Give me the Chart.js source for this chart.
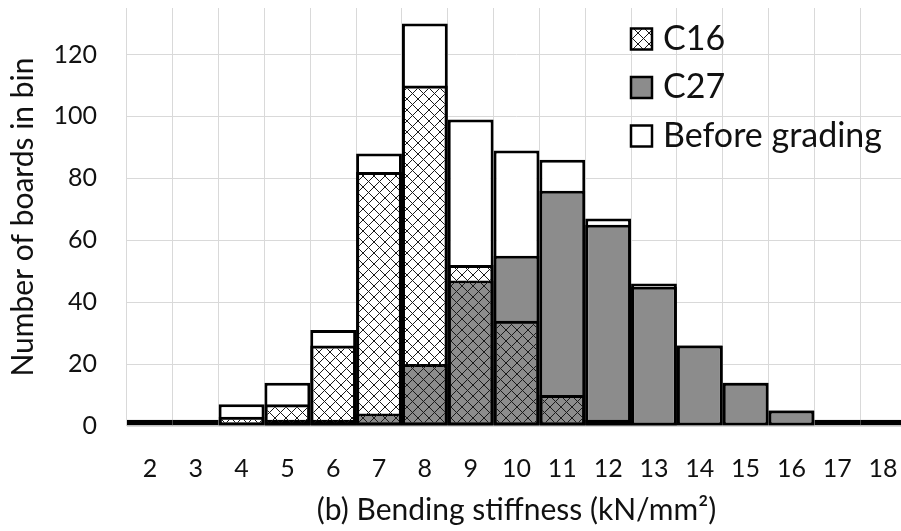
<!DOCTYPE html>
<html>
<head>
<meta charset="utf-8">
<script src="https://cdn.jsdelivr.net/npm/chart.js@4.4.1/dist/chart.umd.min.js"></script>
<style>
  html, body { margin: 0; padding: 0; background: #fff; overflow: hidden; }
  #wrap { width: 901px; height: 531px; overflow: hidden; }
</style>
</head>
<body>
<div id="wrap"><canvas id="chart_hist" width="910" height="531"></canvas></div>
<script>
const bins = ["2", "3", "4", "5", "6", "7", "8", "9", "10", "11", "12", "13", "14", "15", "16", "17", "18"];
const c16 = [0, 0, 3, 7, 26, 82, 110, 52, 34, 10, 2, 1, 0, 0, 0, 0, 0];
const c27 = [0, 0, 0, 2, 2, 4, 20, 47, 55, 76, 65, 45, 26, 14, 5, 0, 0];
const beforeGrading = [2, 2, 7, 14, 31, 88, 130, 99, 89, 86, 67, 46, 26, 14, 5, 2, 2];

const FONT = "Lato";
const GRID = "#d9d9d9";
const GREY = "#8c8c8c";

const canvas = document.getElementById("chart_hist");
const ctx = canvas.getContext("2d");

// diamond hatch, transparent between the lines
function makeHatch() {
  const p = 11;
  const tile = document.createElement("canvas");
  tile.width = p;
  tile.height = p;
  const g = tile.getContext("2d");
  g.strokeStyle = "#1a1a1a";
  g.lineWidth = 1;
  g.beginPath();
  g.moveTo(-1, -1);
  g.lineTo(p + 1, p + 1);
  g.moveTo(p + 1, -1);
  g.lineTo(-1, p + 1);
  g.stroke();
  return ctx.createPattern(tile, "repeat");
}
const hatch = makeHatch();

// legend drawn inside the plot, top right
const insideLegend = {
  id: "insideLegend",
  afterDraw(chart) {
    const c = chart.ctx;
    c.save();
    chart.data.datasets.forEach((ds, i) => {
      const cy = 39 + i * 48.5;
      const x = 631, s = 21;
      c.fillStyle = "#fff";
      c.fillRect(x, cy - s / 2, s, s);
      c.fillStyle = ds.backgroundColor;
      c.fillRect(x, cy - s / 2, s, s);
      c.lineWidth = 2.5;
      c.strokeStyle = "#000";
      c.strokeRect(x, cy - s / 2, s, s);
      c.fillStyle = "#111";
      c.font = "34px " + FONT;
      c.textAlign = "left";
      c.textBaseline = "middle";
      c.fillText(ds.label, 663, cy);
    });
    c.restore();
  },
};

new Chart(canvas, {
  type: "bar",
  data: {
    labels: bins,
    datasets: [
      { label: "C16", data: c16, backgroundColor: hatch },
      { label: "C27", data: c27, backgroundColor: GREY },
      { label: "Before grading", data: beforeGrading, backgroundColor: "#fff" },
    ],
  },
  options: {
    responsive: false,
    animation: false,
    devicePixelRatio: 1,
    layout: { padding: { top: 8, right: 4, left: 0, bottom: 0 } },
    datasets: {
      bar: {
        grouped: false,
        barPercentage: 1,
        categoryPercentage: 1,
        borderColor: "#000",
        borderWidth: 3,
        borderSkipped: false,
        inflateAmount: 0,
      },
    },
    scales: {
      x: {
        grid: { color: GRID, drawTicks: false },
        border: { color: GRID },
        ticks: { color: "#111", font: { family: FONT, size: 25 }, padding: 28, maxRotation: 0 },
        title: {
          display: true,
          text: "(b) Bending stiffness (kN/mm²)",
          color: "#111",
          font: { family: FONT, size: 30 },
          padding: { top: 0, bottom: 3 },
        },
        afterFit(scale) {
          scale.height = 105;
          scale.paddingLeft = 0;
          scale.paddingRight = 0;
        },
      },
      y: {
        min: 0,
        max: 135,
        grid: {
          drawTicks: false,
          color: (c) => (c.tick && c.tick.value % 20 === 0 ? GRID : "transparent"),
        },
        border: { display: false },
        ticks: {
          stepSize: 20,
          color: "#111",
          font: { family: FONT, size: 25 },
          padding: 30,
          callback: (v) => (v % 20 === 0 ? v : ""),
        },
        title: {
          display: true,
          text: "Number of boards in bin",
          color: "#111",
          font: { family: FONT, size: 30 },
          padding: { top: 5, bottom: 0 },
        },
        afterFit(scale) {
          scale.width = 127;
          scale.paddingTop = 0;
          scale.paddingBottom = 0;
        },
      },
    },
    plugins: {
      legend: { display: false },
      tooltip: { enabled: false },
    },
  },
  plugins: [insideLegend],
});
</script>
</body>
</html>
